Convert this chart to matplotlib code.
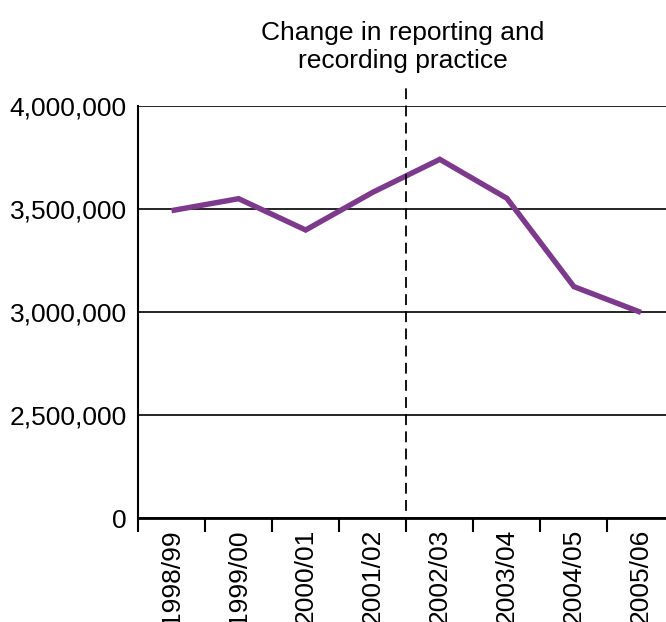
import matplotlib
matplotlib.use('Agg')
import matplotlib.pyplot as plt
import matplotlib.transforms as mtransforms
from matplotlib.ticker import FixedLocator, NullFormatter

years = ["1998/99", "1999/00", "2000/01", "2001/02",
         "2002/03", "2003/04", "2004/05", "2005/06"]
offences = [3492000, 3550000, 3398000, 3581000,
            3741000, 3552000, 3123000, 2998000]

# y axis is broken: the bottom of the scale is labelled 0
y_ticks = [2000000, 2500000, 3000000, 3500000, 4000000]
y_labels = ["0", "2,500,000", "3,000,000", "3,500,000", "4,000,000"]
note = "Change in reporting and\nrecording practice"

plt.rcParams['font.family'] = ['Liberation Sans', 'DejaVu Sans']
plt.rcParams['font.size'] = 19

fig = plt.figure(figsize=(6.66, 6.22), dpi=100)
ax = fig.add_axes([0.2072, 0.1672, 0.8056, 0.6624])

x = list(range(len(years)))
ax.plot(x, offences, color='#7d3a8c', linewidth=3.9, solid_joinstyle='miter',
        solid_capstyle='butt', zorder=3)

ax.set_xlim(-0.5, len(years) - 0.5)
ax.set_ylim(y_ticks[0], y_ticks[-1])

ax.set_yticks(y_ticks)
ax.set_yticklabels(y_labels)
ax.tick_params(axis='y', length=0, pad=8)
ax.grid(axis='y', color='black', linewidth=1.2)
ax.set_axisbelow(True)

# tick marks between the years, labels centred on each year
ax.xaxis.set_major_locator(FixedLocator([i - 0.5 for i in range(len(years) + 1)]))
ax.xaxis.set_major_formatter(NullFormatter())
ax.xaxis.set_minor_locator(FixedLocator(x))
ax.set_xticklabels(years, minor=True, rotation=90)
ax.tick_params(axis='x', which='major', length=10, width=1.5, direction='out')
ax.tick_params(axis='x', which='minor', length=0, pad=8)

for side in ['top', 'right']:
    ax.spines[side].set_visible(False)
ax.spines['left'].set_linewidth(1.5)
ax.spines['bottom'].set_linewidth(2)

# marker for the change in recording practice
trans = mtransforms.blended_transform_factory(ax.transData, ax.transAxes)
ax.plot([3.5, 3.5], [-0.025, 1.05], transform=trans, color='black',
        linewidth=1.3, linestyle=(0, (6, 3.5)), clip_on=False, zorder=4)
ax.text(3.45, 1.08, note, transform=trans, ha='center', va='bottom',
        linespacing=1.2)

fig.savefig("out.png", dpi=100)
